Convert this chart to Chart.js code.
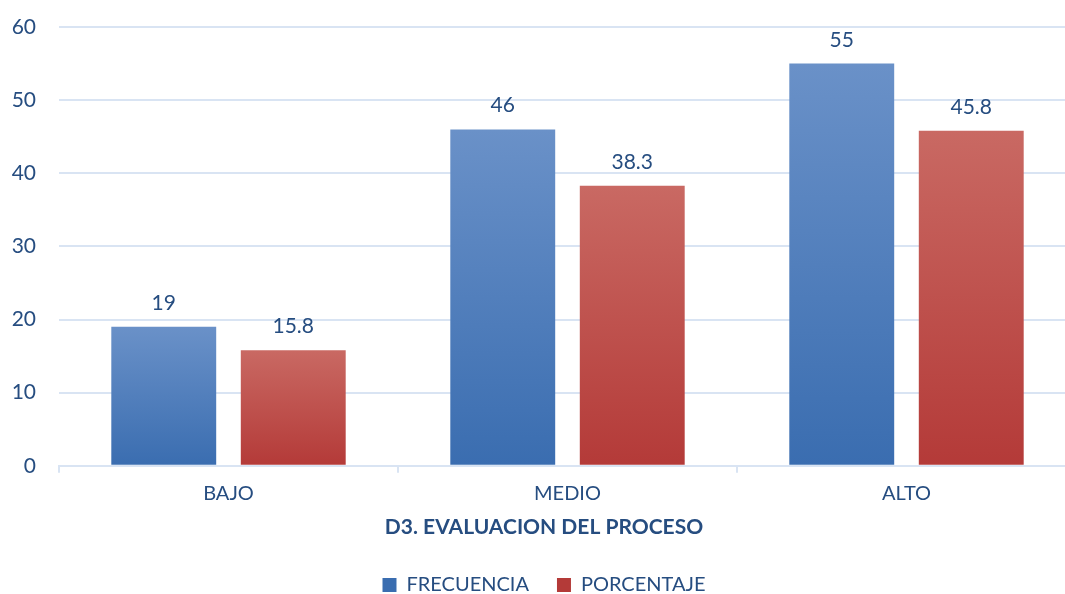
<!DOCTYPE html>
<html>
<head>
<meta charset="utf-8">
<script src="https://cdn.jsdelivr.net/npm/chart.js@4"></script>
<style>
    html, body { margin: 0; padding: 0; background: #fff; overflow: hidden; }
    #wrap { width: 1085px; height: 605px; }
</style>
</head>
<body>
<div id="wrap"><canvas id="chart"></canvas></div>
<script>
const categories = ['BAJO', 'MEDIO', 'ALTO'];
const frecuencia = [19, 46, 55];
const porcentaje = [15.8, 38.3, 45.8];
const yTicks = [0, 10, 20, 30, 40, 50, 60];

const textColor = '#264d80';
const gridColor = '#d9e4f3';
const fontFamily = 'Lato, "Open Sans", sans-serif';

// gradient per bar, lighter at the top like the office fill
const barFill = (top, bottom) => (c) => {
    if (c.type !== 'data' || !c.chart.chartArea) return bottom;
    const y = c.chart.scales.y;
    const g = c.chart.ctx.createLinearGradient(0, y.getPixelForValue(c.raw), 0, y.getPixelForValue(0));
    g.addColorStop(0, top);
    g.addColorStop(1, bottom);
    return g;
};

const valueLabels = {
    id: 'valueLabels',
    afterDatasetsDraw(chart) {
        const ctx = chart.ctx;
        ctx.save();
        ctx.font = '21px ' + fontFamily;
        ctx.fillStyle = textColor;
        ctx.textAlign = 'center';
        ctx.textBaseline = 'alphabetic';
        chart.data.datasets.forEach((ds, i) => {
            chart.getDatasetMeta(i).data.forEach((bar, j) => {
                ctx.fillText(String(ds.data[j]), bar.x, bar.y - 17);
            });
        });
        ctx.restore();
    }
};

const ctx = document.getElementById('chart').getContext('2d');
new Chart(ctx, {
    type: 'bar',
    data: {
        labels: categories,
        datasets: [{
            label: 'FRECUENCIA',
            data: frecuencia,
            backgroundColor: barFill('#6a91c8', '#3a6db0'),
            categoryPercentage: 0.764,
            barPercentage: 0.81
        }, {
            label: 'PORCENTAJE',
            data: porcentaje,
            backgroundColor: barFill('#c96963', '#b43a38'),
            categoryPercentage: 0.764,
            barPercentage: 0.81
        }]
    },
    options: {
        responsive: true,
        maintainAspectRatio: false,
        animation: false,
        layout: { padding: { left: 12, right: 9, top: 27, bottom: 0 } },
        scales: {
            x: {
                grid: { drawOnChartArea: false, drawTicks: true, tickLength: 7, color: gridColor, lineWidth: 2 },
                border: { color: gridColor, width: 2 },
                ticks: { color: textColor, font: { family: fontFamily, size: 20 }, padding: 9 }
            },
            y: {
                min: 0,
                max: 60,
                afterBuildTicks: (scale) => { scale.ticks = yTicks.map(v => ({ value: v })); },
                afterFit: (scale) => { scale.width = 47; scale.paddingTop = 0; },
                grid: { color: gridColor, lineWidth: 2, drawTicks: false },
                border: { display: false },
                ticks: { color: textColor, font: { family: fontFamily, size: 21 }, padding: 23 }
            }
        },
        plugins: {
            title: {
                display: true,
                position: 'bottom',
                text: 'D3. EVALUACION DEL PROCESO',
                color: textColor,
                font: { family: fontFamily, size: 21, weight: 'bold' },
                padding: { top: 0, bottom: 7 },
                weight: 500
            },
            legend: {
                position: 'bottom',
                labels: {
                    color: textColor,
                    font: { family: fontFamily, size: 20 },
                    boxWidth: 14,
                    boxHeight: 14,
                    padding: 28
                }
            },
            tooltip: { enabled: false }
        }
    },
    plugins: [valueLabels]
});
</script>
</body>
</html>
